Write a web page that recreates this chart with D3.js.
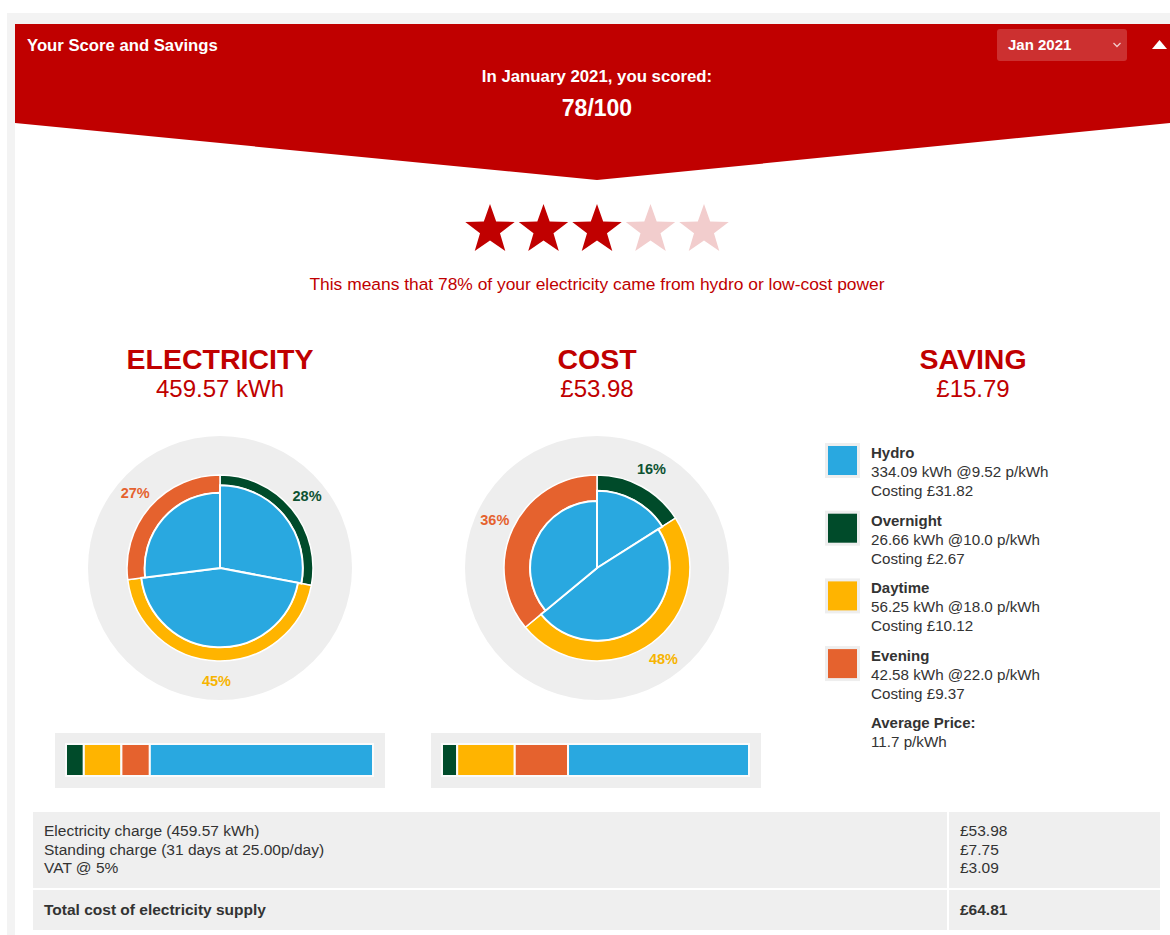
<!DOCTYPE html>
<html>
<head>
<meta charset="utf-8">
<script src="https://cdn.jsdelivr.net/npm/d3@7"></script>
<style>
  html, body { margin: 0; padding: 0; background: #ffffff; }
  svg { display: block; font-family: "Liberation Sans", Arial, sans-serif; }
</style>
</head>
<body>
<svg id="chart" width="1170" height="935"></svg>
<script>
// ---------------- DATA ----------------
const bands = ["Overnight", "Daytime", "Evening"];
const bandKwh = [26.66, 56.25, 42.58];
const bandRate = [10.0, 18.0, 22.0];
const bandCost = [2.67, 10.12, 9.37];
const elecSharePct = [28, 45, 27];   // share of total kWh per time band
const costSharePct = [16, 48, 36];   // share of total cost per time band
const hydroName = "Hydro";
const hydroKwh = 334.09;
const hydroRate = 9.52;
const hydroCost = 31.82;
const totalKwh = 459.57;
const totalCost = 53.98;
const savingValue = 15.79;
const avgPrice = 11.7;
const score = 78;
const starsFilled = 3;
const starsTotal = 5;
const monthLabel = "Jan 2021";
const monthLong = "January 2021";
const tableLabels = ["Electricity charge (459.57 kWh)", "Standing charge (31 days at 25.00p/day)", "VAT @ 5%"];
const tableValues = ["£53.98", "£7.75", "£3.09"];
const totalLabel = "Total cost of electricity supply";
const totalValue = "£64.81";

// ---------------- STYLE ----------------
const RED = "#c00000";
const bandColors = ["#004b2a", "#ffb400", "#e5622e"];
const hydroColor = "#29a8e0";
const labelColors = ["#0d5232", "#f7b400", "#e5622e"];
const textColor = "#333333";

const svg = d3.select("#chart");

// page frame
svg.append("rect").attr("x", 7).attr("y", 13).attr("width", 1163).attr("height", 922).attr("fill", "#f3f3f3");
svg.append("rect").attr("x", 15).attr("y", 24).attr("width", 1155).attr("height", 911).attr("fill", "#ffffff");

// header chevron
svg.append("path")
  .attr("d", d3.line()([[15, 24], [1170, 24], [1170, 123], [597, 180], [15, 123]]) + "Z")
  .attr("fill", RED);

svg.append("text").attr("x", 27).attr("y", 51)
  .attr("font-size", 16.7).attr("font-weight", "bold").attr("fill", "#fff")
  .text("Your Score and Savings");

// dropdown
svg.append("rect").attr("x", 997).attr("y", 29).attr("width", 130).attr("height", 32).attr("rx", 3)
  .attr("fill", "#cc3030");
svg.append("text").attr("x", 1008).attr("y", 50).attr("font-size", 15).attr("font-weight", "bold")
  .attr("fill", "#fff").text(monthLabel);
svg.append("path").attr("d", "M1113.5,43 L1117,46.5 L1120.5,43").attr("fill", "none")
  .attr("stroke", "#f3caca").attr("stroke-width", 1.3);
// collapse triangle
svg.append("path").attr("d", "M1152,49 L1167,49 L1159.5,40 Z").attr("fill", "#fff");

svg.append("text").attr("x", 597).attr("y", 82).attr("text-anchor", "middle")
  .attr("font-size", 16.8).attr("font-weight", "bold").attr("fill", "#fff")
  .text(`In ${monthLong}, you scored:`);
svg.append("text").attr("x", 597).attr("y", 116).attr("text-anchor", "middle")
  .attr("font-size", 23).attr("font-weight", "bold").attr("fill", "#fff")
  .text(`${score}/100`);

// stars
function starPath(cx, cy, R, r) {
  const pts = [];
  for (let i = 0; i < 10; i++) {
    const a = -Math.PI / 2 + i * Math.PI / 5;
    const rad = i % 2 === 0 ? R : r;
    pts.push([cx + rad * Math.cos(a), cy + rad * Math.sin(a)]);
  }
  return d3.line()(pts) + "Z";
}
const starX = d3.scalePoint().domain(d3.range(starsTotal)).range([490, 704]);
svg.selectAll(".star").data(d3.range(starsTotal)).join("path")
  .attr("d", i => starPath(starX(i), 230, 26, 10.5))
  .attr("fill", i => i < starsFilled ? RED : "#f2cdcd");

svg.append("text").attr("x", 597).attr("y", 290).attr("text-anchor", "middle")
  .attr("font-size", 17.4).attr("fill", RED)
  .text(`This means that ${score}% of your electricity came from hydro or low-cost power`);

// column headings
const cols = [
  { x: 220, title: "ELECTRICITY", value: `${totalKwh.toFixed(2)} kWh` },
  { x: 597, title: "COST", value: `£${totalCost.toFixed(2)}` },
  { x: 973, title: "SAVING", value: `£${savingValue.toFixed(2)}` }
];
cols.forEach(c => {
  svg.append("text").attr("x", c.x).attr("y", 369).attr("text-anchor", "middle")
    .attr("font-size", 28.5).attr("font-weight", "bold").attr("fill", RED).text(c.title);
  svg.append("text").attr("x", c.x).attr("y", 397).attr("text-anchor", "middle")
    .attr("font-size", 24).attr("fill", RED).text(c.value);
});

// donuts
const R = 93;
function drawDonut(cx, cy, sharePct, nonHydroAmounts, total) {
  const g = svg.append("g").attr("transform", `translate(${cx},${cy})`);
  g.append("circle").attr("r", 132).attr("fill", "#eeeeee");
  const data = bands.map((b, i) => {
    const bandTotal = sharePct[i] / 100 * total;
    const hydroFrac = Math.max(0, 1 - nonHydroAmounts[i] / bandTotal);
    return { band: b, i, share: sharePct[i], hydroFrac };
  });
  const pie = d3.pie().sort(null).value(d => d.share);
  const arcs = pie(data);
  const rScale = d3.scaleSqrt().domain([0, 1]).range([0, R]);
  // outer ring (non-hydro part)
  g.selectAll(".ring").data(arcs).join("path")
    .attr("d", a => d3.arc().innerRadius(rScale(a.data.hydroFrac)).outerRadius(R)(a))
    .attr("fill", a => bandColors[a.data.i])
    .attr("stroke", "#fff").attr("stroke-width", 1.5);
  // inner hydro slices
  g.selectAll(".hydro").data(arcs).join("path")
    .attr("d", a => d3.arc().innerRadius(0).outerRadius(rScale(a.data.hydroFrac))(a))
    .attr("fill", hydroColor)
    .attr("stroke", "#fff").attr("stroke-width", 2);
  // labels
  const labelArc = d3.arc().innerRadius(113).outerRadius(113);
  g.selectAll(".lbl").data(arcs).join("text")
    .attr("x", a => labelArc.centroid(a)[0])
    .attr("y", a => labelArc.centroid(a)[1] + 5)
    .attr("text-anchor", "middle")
    .attr("font-size", 14.5).attr("font-weight", "bold")
    .attr("fill", a => labelColors[a.data.i])
    .text(a => `${a.data.share}%`);
}
drawDonut(220, 568, elecSharePct, bandKwh, totalKwh);
drawDonut(597, 568, costSharePct, bandCost, totalCost);

// stacked bars
function drawBar(cx, values, total) {
  const g = svg.append("g");
  g.append("rect").attr("x", cx - 165).attr("y", 733).attr("width", 330).attr("height", 55).attr("fill", "#eeeeee");
  const x = d3.scaleLinear().domain([0, total]).range([cx - 154, cx + 153]);
  const segs = [];
  let acc = 0;
  values.forEach((v, i) => {
    segs.push({ start: acc, end: acc + v, color: i < 3 ? bandColors[i] : hydroColor });
    acc += v;
  });
  g.selectAll(".seg").data(segs).join("rect")
    .attr("x", d => x(d.start)).attr("y", 744)
    .attr("width", d => x(d.end) - x(d.start)).attr("height", 32)
    .attr("fill", d => d.color)
    .attr("stroke", "#fbfbfb").attr("stroke-width", 2);
}
drawBar(220, [...bandKwh, hydroKwh], totalKwh);
drawBar(596, [...bandCost, hydroCost], totalCost);

// legend
const legendItems = [
  { name: hydroName, color: hydroColor, kwh: hydroKwh, rate: hydroRate.toFixed(2), cost: hydroCost },
  ...bands.map((b, i) => ({ name: b, color: bandColors[i], kwh: bandKwh[i], rate: bandRate[i].toFixed(1), cost: bandCost[i] }))
];
const legY = d3.scaleLinear().domain([0, 1]).range([453, 520.7]);
legendItems.forEach((d, i) => {
  const y = legY(i);
  svg.append("rect").attr("x", 826.5).attr("y", y - 8.5).attr("width", 32).attr("height", 32)
    .attr("fill", d.color).attr("stroke", "#eeeeee").attr("stroke-width", 3);
  svg.append("text").attr("x", 871).attr("y", y + 5).attr("font-size", 15).attr("font-weight", "bold")
    .attr("fill", textColor).text(d.name);
  svg.append("text").attr("x", 871).attr("y", y + 24).attr("font-size", 15.2)
    .attr("fill", textColor).text(`${d.kwh.toFixed(2)} kWh @${d.rate} p/kWh`);
  svg.append("text").attr("x", 871).attr("y", y + 43).attr("font-size", 15.2)
    .attr("fill", textColor).text(`Costing £${d.cost.toFixed(2)}`);
});
svg.append("text").attr("x", 871).attr("y", 728).attr("font-size", 15).attr("font-weight", "bold")
  .attr("fill", textColor).text("Average Price:");
svg.append("text").attr("x", 871).attr("y", 747).attr("font-size", 15.2)
  .attr("fill", textColor).text(`${avgPrice} p/kWh`);

// table
svg.append("rect").attr("x", 33).attr("y", 812).attr("width", 1127).attr("height", 76).attr("fill", "#efefef");
svg.append("rect").attr("x", 33).attr("y", 890).attr("width", 1127).attr("height", 40).attr("fill", "#efefef");
svg.append("line").attr("x1", 948).attr("x2", 948).attr("y1", 812).attr("y2", 930)
  .attr("stroke", "#ffffff").attr("stroke-width", 2);
const rowY = d3.scaleLinear().domain([0, 1]).range([836, 854.5]);
tableLabels.forEach((t, i) => {
  svg.append("text").attr("x", 44).attr("y", rowY(i)).attr("font-size", 15.5).attr("fill", textColor).text(t);
  svg.append("text").attr("x", 960).attr("y", rowY(i)).attr("font-size", 15.5).attr("fill", textColor).text(tableValues[i]);
});
svg.append("text").attr("x", 44).attr("y", 915).attr("font-size", 15.5).attr("font-weight", "bold")
  .attr("fill", textColor).text(totalLabel);
svg.append("text").attr("x", 960).attr("y", 915).attr("font-size", 15.5).attr("font-weight", "bold")
  .attr("fill", textColor).text(totalValue);
</script>
</body>
</html>
